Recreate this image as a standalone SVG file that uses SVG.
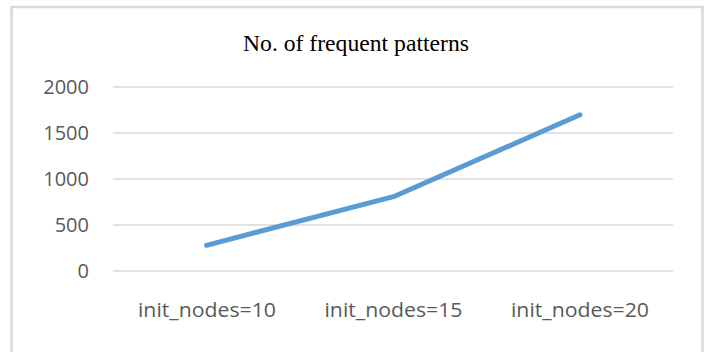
<svg xmlns="http://www.w3.org/2000/svg" width="704" height="352" viewBox="0 0 704 352">
<style>
.frame{fill:#ffffff;stroke:#d9d9d9;stroke-width:2.5}
.grid{stroke:#d9d9d9;stroke-width:1.3;fill:none}
.ylab{font-family:"Open Sans","Liberation Sans",sans-serif;font-size:20px;fill:#595959;text-anchor:end}
.xlab{font-family:"Open Sans","Liberation Sans",sans-serif;font-size:20px;fill:#595959;text-anchor:middle}
.title{font-family:"Liberation Serif","Times New Roman",serif;font-size:24px;fill:#000000;text-anchor:middle}
.series{fill:none;stroke:#5b9bd5;stroke-width:5;stroke-linecap:round;stroke-linejoin:round}
</style>
<rect class="frame" x="11.5" y="7" width="691" height="360"/>
<g id="title"><text class="title" x="356" y="51" textLength="226" lengthAdjust="spacingAndGlyphs">No. of frequent patterns</text></g>
<g id="gridlines">
<line class="grid" x1="113" y1="87" x2="673" y2="87"/>
<line class="grid" x1="113" y1="133" x2="673" y2="133"/>
<line class="grid" x1="113" y1="179" x2="673" y2="179"/>
<line class="grid" x1="113" y1="225" x2="673" y2="225"/>
<line class="grid" x1="113" y1="271" x2="673" y2="271"/>
</g>
<g id="y-axis">
<text class="ylab" x="89" y="94">2000</text>
<text class="ylab" x="89" y="140">1500</text>
<text class="ylab" x="89" y="186">1000</text>
<text class="ylab" x="89" y="232">500</text>
<text class="ylab" x="89" y="278">0</text>
</g>
<g id="x-axis">
<text class="xlab" x="207" y="317" textLength="138" lengthAdjust="spacingAndGlyphs">init_nodes=10</text>
<text class="xlab" x="393.5" y="317" textLength="138" lengthAdjust="spacingAndGlyphs">init_nodes=15</text>
<text class="xlab" x="580" y="317" textLength="138" lengthAdjust="spacingAndGlyphs">init_nodes=20</text>
</g>
<g id="connectors">
<polyline class="series" points="206.5,245.3 393.5,196.7 580,114.8"/>
</g>
</svg>
